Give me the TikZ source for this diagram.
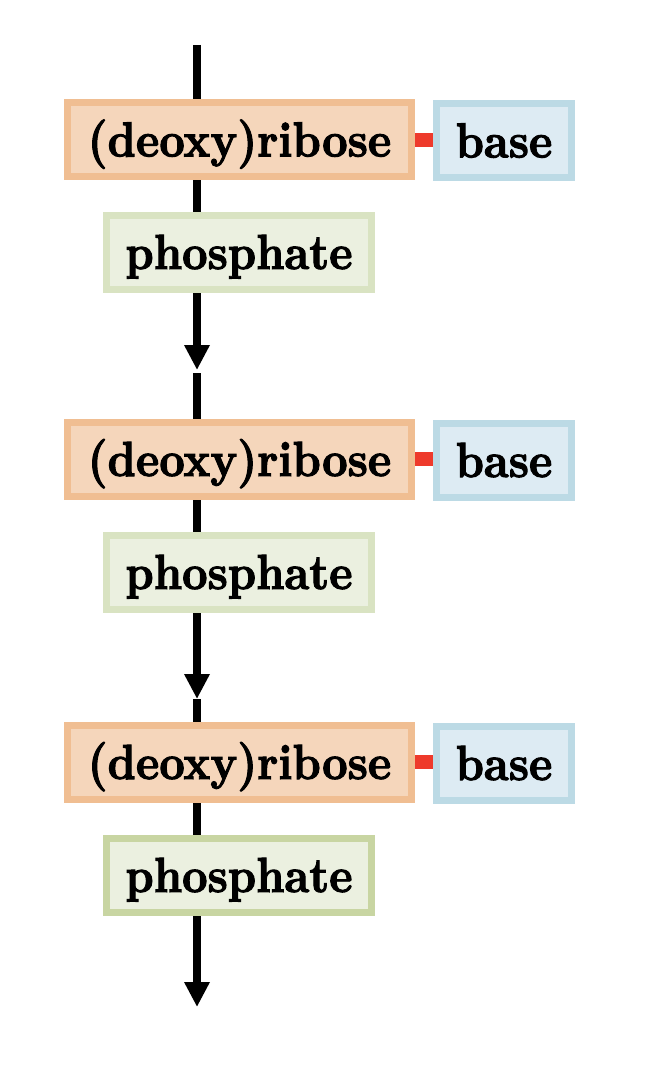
\documentclass[tikz,border=0pt]{standalone}
\usepackage{fontspec}
\newfontfamily\boxfont{lmroman10-bold}[Extension=.otf, FakeBold=2, FakeStretch=0.9]
\usetikzlibrary{arrows.meta,backgrounds}
\definecolor{ribD}{RGB}{240,190,146}
\definecolor{ribF}{RGB}{245,214,187}
\definecolor{baseD}{RGB}{188,218,229}
\definecolor{baseF}{RGB}{221,235,243}
\definecolor{phD}{RGB}{217,227,194}
\definecolor{phDdark}{RGB}{200,213,162}
\definecolor{phF}{RGB}{235,240,224}
\definecolor{bondred}{RGB}{238,58,43}
\begin{document}
\begin{tikzpicture}[x=0.75pt,y=-0.75pt,
  box/.style={draw, line width=5.25pt, inner sep=0pt, minimum height=55.5pt,
    text height=25.5pt, text depth=0pt,
    font=\boxfont\fontsize{37}{44}\selectfont},
  ribbox/.style={box, draw=ribD, fill=ribF, minimum width=258pt},
  basebox/.style={box, draw=baseD, fill=baseF, minimum width=101.25pt},
  phbox/.style={box, draw=phD, fill=phF, minimum width=198.75pt},
  chain/.style={line width=6pt, draw=black},
  chainarrow/.style={chain, -{Triangle[length=18.75pt,width=18pt]}},
  bond/.style={line width=10.5pt, draw=bondred}]
\useasboundingbox (0,0) rectangle (658,1074);

% unit 1
\node[ribbox] (rib1) at (239.5,139.5) {(deoxy)ribose};
\node[basebox] (base1) at (504,140.5) {base};
\node[phbox] (ph1) at (239,252) {phosphate};
% unit 2
\node[ribbox] (rib2) at (239.5,459) {(deoxy)ribose};
\node[basebox] (base2) at (504,460) {base};
\node[phbox] (ph2) at (239,572) {phosphate};
% unit 3
\node[ribbox] (rib3) at (239.5,762) {(deoxy)ribose};
\node[basebox] (base3) at (504,763) {base};
\node[phbox, draw=phDdark] (ph3) at (239,875) {phosphate};

\coordinate (top) at (197,45);
\coordinate (tip1) at (197,370);
\coordinate (re1) at (197,373);
\coordinate (tip2) at (197,699);
\coordinate (tip3) at (197,1007);

\begin{scope}[on background layer]
  \fill[white] (0,0) rectangle (658,1074);
  \draw[chain] (top) -- (top |- ph1.south);
  \draw[chainarrow] (top |- ph1.south) -- (tip1);
  \draw[chain] (re1) -- (top |- ph2.south);
  \draw[chainarrow] (top |- ph2.south) -- (tip2);
  \draw[chain] (tip2) -- (top |- ph3.south);
  \draw[chainarrow] (top |- ph3.south) -- (tip3);
  \draw[bond] (rib1.east) -- (rib1.east -| base1.west);
  \draw[bond] (rib2.east) -- (rib2.east -| base2.west);
  \draw[bond] (rib3.east) -- (rib3.east -| base3.west);
\end{scope}
\end{tikzpicture}
\end{document}
